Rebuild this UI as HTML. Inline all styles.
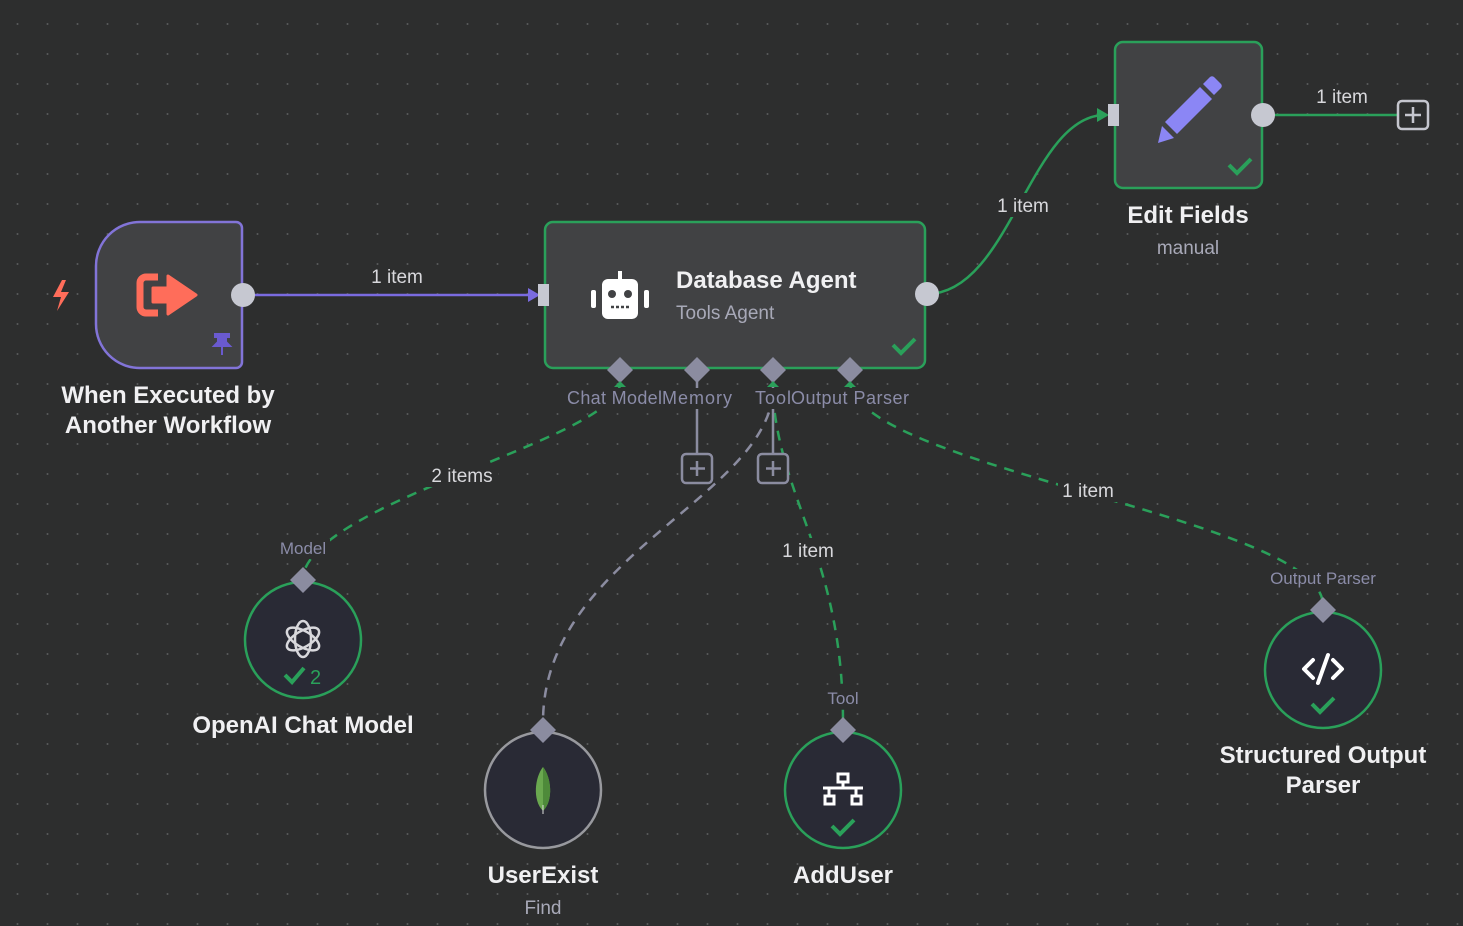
<!DOCTYPE html>
<html><head><meta charset="utf-8"><style>
html,body{margin:0;padding:0;background:#2d2e2e;}
svg{display:block;font-family:"Liberation Sans","DejaVu Sans",sans-serif;}
</style></head><body>
<svg width="1463" height="926" viewBox="0 0 1463 926" xmlns="http://www.w3.org/2000/svg">
<defs>
<pattern id="dots" x="2.5" y="9" width="30" height="30" patternUnits="userSpaceOnUse">
<circle cx="15" cy="15" r="1" fill="#5a5b5c"/>
</pattern>
</defs>
<rect width="1463" height="926" fill="#2d2e2e"/>
<rect width="1463" height="926" fill="url(#dots)"/>

<!-- connectors -->
<line x1="243" y1="295" x2="530" y2="295" stroke="#7a6be0" stroke-width="2.5"/>
<polygon points="528,288 540,295 528,302" fill="#7a6be0"/>
<text x="397" y="283" fill="#d8d8dc" font-size="19" text-anchor="middle">1 item</text>

<path d="M927,294 C1010,294 1030,115 1105,115" fill="none" stroke="#2aa05a" stroke-width="2.5"/>
<polygon points="1097,108 1109,115 1097,122" fill="#2aa05a"/>
<rect x="995" y="193" width="56" height="24" fill="#2d2e2e"/>
<text x="1023" y="212" fill="#d8d8dc" font-size="19" text-anchor="middle">1 item</text>

<line x1="1263" y1="115" x2="1400" y2="115" stroke="#2aa05a" stroke-width="2.5"/>
<text x="1342" y="103" fill="#d8d8dc" font-size="19" text-anchor="middle">1 item</text>
<rect x="1398" y="101" width="30" height="28" rx="4" fill="#2d2e2e" stroke="#c5c6ce" stroke-width="2.5"/>
<path d="M1413,107 v16 M1405,115 h16" stroke="#c5c6ce" stroke-width="2.5"/>

<!-- dashed sub connectors -->
<path d="M620,385 C610,440 320,500 303,575" fill="none" stroke="#2aa05a" stroke-width="2.5" stroke-dasharray="10,8"/>
<path d="M773,395 C760,500 543,560 543,722" fill="none" stroke="#8b8ca0" stroke-width="2.5" stroke-dasharray="10,8"/>
<path d="M773,395 C780,500 843,560 843,722" fill="none" stroke="#2aa05a" stroke-width="2.5" stroke-dasharray="10,8"/>
<path d="M850,385 C870,470 1323,520 1323,605" fill="none" stroke="#2aa05a" stroke-width="2.5" stroke-dasharray="10,8"/>
<rect x="426" y="463" width="72" height="24" fill="#2d2e2e"/>
<text x="462" y="482" fill="#d8d8dc" font-size="19" text-anchor="middle">2 items</text>
<rect x="778" y="538" width="60" height="24" fill="#2d2e2e"/>
<text x="808" y="557" fill="#d8d8dc" font-size="19" text-anchor="middle">1 item</text>
<rect x="1058" y="478" width="60" height="24" fill="#2d2e2e"/>
<text x="1088" y="497" fill="#d8d8dc" font-size="19" text-anchor="middle">1 item</text>

<!-- memory/tool plus -->
<line x1="697" y1="370" x2="697" y2="455" stroke="#8b8ca0" stroke-width="2.5"/>
<line x1="773" y1="370" x2="773" y2="455" stroke="#8b8ca0" stroke-width="2.5"/>
<rect x="682" y="454" width="30" height="29" rx="4" fill="#2d2e2e" stroke="#8b8ca0" stroke-width="2.5"/>
<path d="M697,461 v15 M690,468.5 h15" stroke="#8b8ca0" stroke-width="2.5"/>
<rect x="758" y="454" width="30" height="29" rx="4" fill="#2d2e2e" stroke="#8b8ca0" stroke-width="2.5"/>
<path d="M773,461 v15 M766,468.5 h15" stroke="#8b8ca0" stroke-width="2.5"/>

<!-- Trigger node -->
<path d="M140,222 H236 a6,6 0 0 1 6,6 V362 a6,6 0 0 1 -6,6 H140 a44,44 0 0 1 -44,-44 V266 a44,44 0 0 1 44,-44 Z" fill="#414244" stroke="#8274d8" stroke-width="2.5"/>
<path d="M62,280 L53,297 L61,297 L57,311 L69,292 L61,292 L66,280 Z" fill="#ff6d5a"/>
<path d="M158,277 h-12 a6,6 0 0 0 -6,6 v24 a6,6 0 0 0 6,6 h12" fill="none" stroke="#ff6d5a" stroke-width="7"/>
<path d="M153,288 h15 v-12 l28,19 l-28,19 v-12 h-15 z" fill="#ff6d5a" stroke="#ff6d5a" stroke-width="3" stroke-linejoin="round"/>
<path d="M215,334 h14 v3 h-3 v5 l4,4 h-16 l4,-4 v-5 h-3 z M222,346 v9" fill="#6a5ad0" stroke="#6a5ad0" stroke-width="2"/>
<circle cx="243" cy="295" r="12" fill="#c6c8d1"/>
<text x="168" y="403" fill="#f0f0f2" font-size="24" font-weight="bold" text-anchor="middle">When Executed by</text>
<text x="168" y="433" fill="#f0f0f2" font-size="24" font-weight="bold" text-anchor="middle">Another Workflow</text>

<!-- Agent node -->
<rect x="545" y="222" width="380" height="146" rx="8" fill="#414244" stroke="#2aa05a" stroke-width="2.5"/>
<rect x="538" y="284" width="11" height="22" fill="#c6c8d1"/>
<circle cx="927" cy="294" r="12" fill="#c6c8d1"/>
<g fill="#fff">
<rect x="602" y="279" width="36" height="40" rx="6"/>
<rect x="591" y="290" width="5" height="18" rx="2"/>
<rect x="644" y="290" width="5" height="18" rx="2"/>
<rect x="618" y="271" width="4" height="9"/>
</g>
<circle cx="612" cy="294" r="4" fill="#414244"/><circle cx="628" cy="294" r="4" fill="#414244"/>
<path d="M611,307 h18" stroke="#414244" stroke-width="2.5" stroke-dasharray="3,2"/>
<text x="676" y="288" fill="#f0f0f2" font-size="24" font-weight="bold">Database Agent</text>
<text x="676" y="319" fill="#a8a9b8" font-size="19">Tools Agent</text>
<path d="M893,345 l8,8 l14,-14" fill="none" stroke="#2aa05a" stroke-width="4"/>
<g fill="#8b8ca0">
<polygon points="620,357 633,370 620,383 607,370"/>
<polygon points="697,357 710,370 697,383 684,370"/>
<polygon points="773,357 786,370 773,383 760,370"/>
<polygon points="850,357 863,370 850,383 837,370"/>
</g>
<g fill="#2aa05a">
<polygon points="614,387 620,381 626,387"/>
<polygon points="767,387 773,381 779,387"/>
<polygon points="844,387 850,381 856,387"/>
</g>
<rect x="566" y="388" width="345" height="21" fill="#2d2e2e"/>
<g fill="#8b8ca8" font-size="18">
<text x="567" y="404" textLength="95">Chat Model</text>
<text x="662" y="404" textLength="70">Memory</text>
<text x="755" y="404" textLength="36">Tool</text>
<text x="791" y="404" textLength="118">Output Parser</text>
</g>

<!-- Edit Fields -->
<rect x="1115" y="42" width="147" height="146" rx="8" fill="#414244" stroke="#2aa05a" stroke-width="2.5"/>
<rect x="1108" y="104" width="11" height="22" fill="#c6c8d1"/>
<circle cx="1263" cy="115" r="12" fill="#c6c8d1"/>
<path d="M1165,122 L1200,87 L1212,99 L1177,134 Z" fill="#8b86f5"/>
<path d="M1203,84 l7,-7 a3,3 0 0 1 4,0 l7,7 a3,3 0 0 1 0,4 l-7,7 z" fill="#8b86f5"/>
<path d="M1162,126 L1174,138 L1158,143 Z" fill="#8b86f5"/>
<path d="M1229,165 l8,8 l14,-14" fill="none" stroke="#2aa05a" stroke-width="4"/>
<text x="1188" y="223" fill="#f0f0f2" font-size="24" font-weight="bold" text-anchor="middle">Edit Fields</text>
<text x="1188" y="254" fill="#a8a9b8" font-size="19" text-anchor="middle">manual</text>

<!-- OpenAI -->
<circle cx="303" cy="640" r="58" fill="#292a35" stroke="#2aa05a" stroke-width="2.5"/>
<polygon points="303,567 316,580 303,593 290,580" fill="#8b8ca0"/>
<rect x="276" y="539" width="54" height="20" fill="#2d2e2e"/>
<text x="303" y="554" fill="#8b8ca8" font-size="17" text-anchor="middle">Model</text>
<g fill="none" stroke="#d8d8dc" stroke-width="2.5">
<ellipse cx="303" cy="639" rx="8" ry="18"/>
<ellipse cx="303" cy="639" rx="8" ry="18" transform="rotate(60 303 639)"/>
<ellipse cx="303" cy="639" rx="8" ry="18" transform="rotate(-60 303 639)"/>
</g>
<path d="M285,675 l7,7 l12,-14" fill="none" stroke="#2aa05a" stroke-width="4"/>
<text x="310" y="684" fill="#2aa05a" font-size="20">2</text>
<text x="303" y="733" fill="#f0f0f2" font-size="24" font-weight="bold" text-anchor="middle">OpenAI Chat Model</text>

<!-- UserExist -->
<circle cx="543" cy="790" r="58" fill="#292a35" stroke="#98999e" stroke-width="2.5"/>
<polygon points="543,717 556,730 543,743 530,730" fill="#8b8ca0"/>
<path d="M543,767 C535,777 532,800 543,811 C554,800 551,777 543,767 Z" fill="#6aa84f"/>
<path d="M543,767 C551,777 554,800 543,811 Z" fill="#4e8a3a"/>
<line x1="543" y1="805" x2="543" y2="814" stroke="#ddd" stroke-width="1"/>
<text x="543" y="883" fill="#f0f0f2" font-size="24" font-weight="bold" text-anchor="middle">UserExist</text>
<text x="543" y="914" fill="#a8a9b8" font-size="19" text-anchor="middle">Find</text>

<!-- AddUser -->
<circle cx="843" cy="790" r="58" fill="#292a35" stroke="#2aa05a" stroke-width="2.5"/>
<polygon points="843,717 856,730 843,743 830,730" fill="#8b8ca0"/>
<rect x="823" y="689" width="40" height="20" fill="#2d2e2e"/>
<text x="843" y="704" fill="#8b8ca8" font-size="17" text-anchor="middle">Tool</text>
<g fill="none" stroke="#fff" stroke-width="3">
<rect x="838" y="774" width="10" height="8"/>
<rect x="825" y="796" width="9" height="8"/>
<rect x="852" y="796" width="9" height="8"/>
<path d="M843,782 v6 M823,788 h40 M829,788 v8 M856,788 v8"/>
</g>
<path d="M832,826 l8,8 l14,-14" fill="none" stroke="#2aa05a" stroke-width="4"/>
<text x="843" y="883" fill="#f0f0f2" font-size="24" font-weight="bold" text-anchor="middle">AddUser</text>

<!-- Structured Output Parser -->
<circle cx="1323" cy="670" r="58" fill="#292a35" stroke="#2aa05a" stroke-width="2.5"/>
<polygon points="1323,597 1336,610 1323,623 1310,610" fill="#8b8ca0"/>
<rect x="1262" y="569" width="122" height="20" fill="#2d2e2e"/>
<text x="1323" y="584" fill="#8b8ca8" font-size="17" text-anchor="middle">Output Parser</text>
<g fill="none" stroke="#fff" stroke-width="4" stroke-linecap="round" stroke-linejoin="round">
<path d="M1313,660 l-9,9 l9,9 M1333,660 l9,9 l-9,9 M1328,655 l-10,28"/>
</g>
<path d="M1312,704 l8,8 l14,-14" fill="none" stroke="#2aa05a" stroke-width="4"/>
<text x="1323" y="763" fill="#f0f0f2" font-size="24" font-weight="bold" text-anchor="middle">Structured Output</text>
<text x="1323" y="793" fill="#f0f0f2" font-size="24" font-weight="bold" text-anchor="middle">Parser</text>
</svg>
</body></html>
